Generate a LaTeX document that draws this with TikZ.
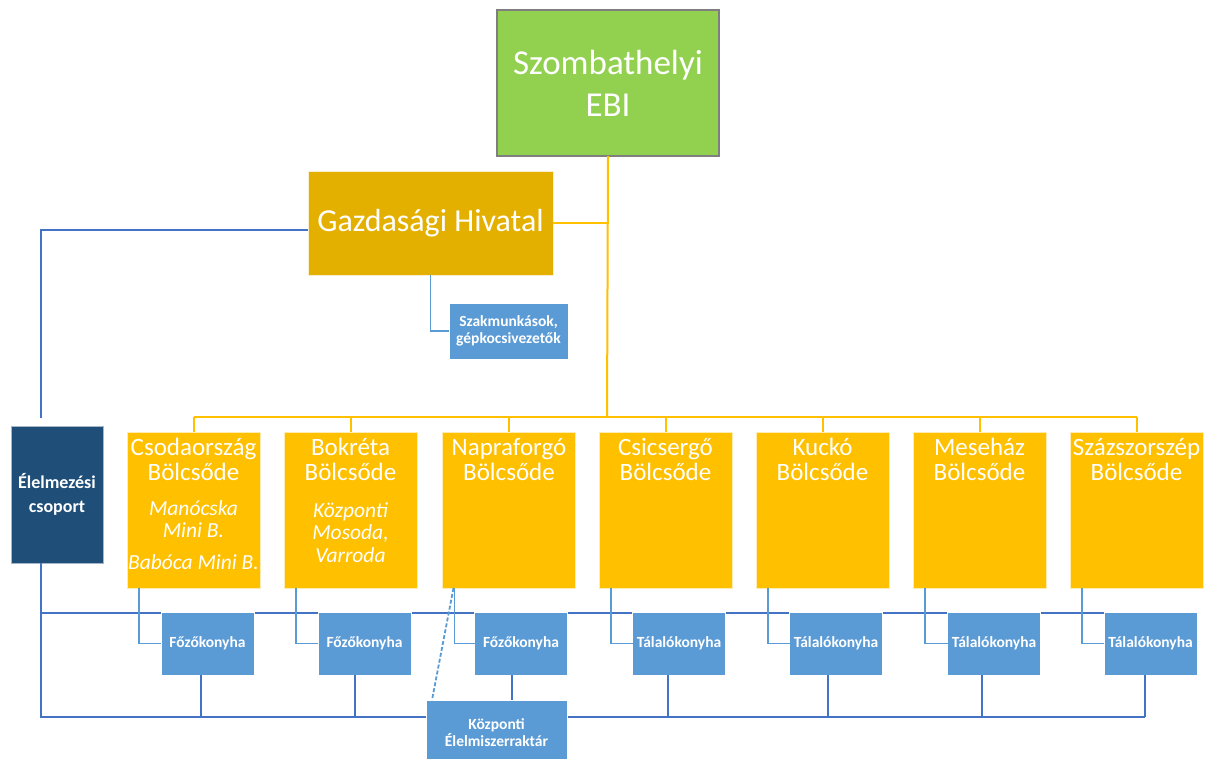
\documentclass[tikz,border=0pt]{standalone}
\usepackage{fontspec}
\setmainfont{Carlito}
\definecolor{cYellow}{HTML}{FFC000}
\definecolor{cGold}{HTML}{E4B000}
\definecolor{cGreen}{HTML}{92D050}
\definecolor{cBlue}{HTML}{5B9BD5}
\definecolor{cNavy}{HTML}{1F4E79}
\definecolor{cLineDark}{HTML}{4472C4}
\definecolor{cLineLight}{HTML}{5B9BD5}
\definecolor{cGray}{HTML}{7F7F7F}
\begin{document}
\begin{tikzpicture}[x=1pt,y=-1pt,
  every node/.style={inner sep=0pt, outer sep=0pt, text=white},
  topbox/.style={rectangle, fill=cGreen, draw=cGray, line width=1.5pt, minimum width=222pt, minimum height=146pt, align=center, font=\fontsize{35}{42}\selectfont},
  goldbox/.style={rectangle, fill=cGold, draw=white!80!cGold, line width=1pt, minimum width=245pt, minimum height=104pt, align=center, font=\fontsize{32}{38}\selectfont},
  ybox/.style={rectangle, fill=cYellow, draw=white!70!cYellow, line width=0.8pt, minimum width=133pt, minimum height=156pt},
  ytitle/.style={anchor=north, align=center, font=\fontsize{25}{25}\selectfont},
  yital/.style={anchor=north, align=center, font=\itshape\fontsize{21.5}{22.5}\selectfont},
  bbox/.style={rectangle, fill=cBlue, draw=white, line width=1pt, minimum width=93pt, minimum height=63pt, align=center, font=\bfseries\fontsize{15.5}{17}\selectfont},
  navybox/.style={rectangle, fill=cNavy, draw=white!60!cNavy, line width=0.8pt, minimum width=92pt, minimum height=137pt, align=center, font=\bfseries\fontsize{18}{24}\selectfont},
  ylink/.style={draw=cYellow, line width=2pt},
  dlink/.style={draw=cLineDark, line width=2pt},
  llink/.style={draw=cLineLight, line width=1.8pt}
]
\clip (0,0) rectangle (1206,758);
\fill[white] (0,0) rectangle (1206,758);

% top boxes
\node[topbox] (ebi) at (608,83) {Szombathelyi\\EBI};
\node[goldbox] (gh) at (430.5,223) {Gazdasági Hivatal};
\node[bbox, minimum width=119pt, minimum height=56pt] (szak) at (508.5,331) {Szakmunkások,\\gépkocsivezetők};
\node[navybox] (el) at (57,494.5) {Élelmezési\\csoport};

% yellow boxes
\foreach \i/\cx/\t in {1/193.5/Csodaország, 2/350.5/Bokréta, 3/509/Napraforgó, 4/665.5/Csicsergő, 5/822.5/Kuckó, 6/979.5/Meseház, 7/1136.5/Százszorszép}{
  \node[ybox] (y\i) at (\cx,510) {};
  \node[ytitle] (t\i) at (y\i.north) {\rule{0pt}{23pt}\t\\Bölcsőde};
}
\node[yital] (it1) at (193.5,498) {\rule{0pt}{17pt}Manócska\\Mini B.\\[9pt]Babóca Mini B.};
\node[yital] (it2) at (350.5,500) {\rule{0pt}{17pt}Központi\\Mosoda,\\Varroda};

\coordinate (ybus) at (607,417);
\coordinate (bbus) at (41,717);
\coordinate (ex) at (41,0);

% yellow connectors
\draw[ylink] (ebi.south) -- (ybus);
\draw[ylink] (y1.north |- ybus) -- (y7.north |- ybus);
\foreach \i in {1,...,7}{\draw[ylink] (y\i.north |- ybus) -- (y\i.north);}
\draw[ylink] (gh.east) -- (ebi.south |- gh.east);

% blue connectors from Gazdasagi
\draw[dlink] ([yshift=-7pt]gh.west) -| ([yshift=8pt]ex |- el.north);
\draw[llink] (gh.south) |- (szak.west);

% Elelmezesi bus lines
\draw[dlink] (ex |- el.south) -- (bbus) -- (1145,717);
\draw[dlink] (ex |- 0,613) -- (1104,613);

% central store box
\node[bbox, minimum width=141pt, minimum height=66pt] (k) at (496.5,733) {Központi\\Élelmiszerraktár};

% kitchen boxes
\foreach \i/\cx/\t in {1/207.5/Főzőkonyha, 2/364.5/Főzőkonyha, 3/521/Főzőkonyha, 4/679/Tálalókonyha, 5/836/Tálalókonyha, 6/994/Tálalókonyha, 7/1150.5/Tálalókonyha}{
  \node[bbox] (f\i) at (\cx,643.5) {\t};
  \draw[llink] ([xshift=12pt]y\i.south west) |- (f\i.west);
}
\foreach \i/\so in {1/-6.5, 2/-9.5, 4/-11, 5/-8, 6/-12, 7/-5.5}{
  \draw[dlink] ([xshift=\so pt]f\i.south) -- ([xshift=\so pt]f\i.south |- bbus);
}
\draw[dlink] ([xshift=-9pt]f3.south) -- ([xshift=-9pt]f3.south |- k.north);
\draw[llink, dash pattern=on 4pt off 2pt] ([xshift=11pt]y3.south west) -- ([xshift=6pt]k.north west);
\end{tikzpicture}
\end{document}
